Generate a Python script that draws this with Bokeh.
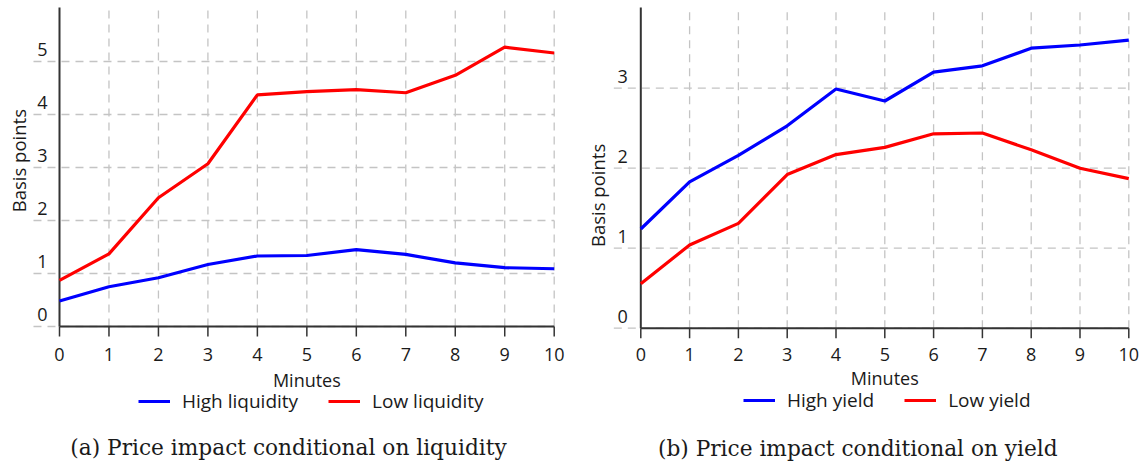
import math
from bokeh.plotting import figure
from bokeh.models import (ColumnDataSource, Range1d, LabelSet, Label, Legend, LegendItem)
from bokeh.core.properties import value
from bokeh.layouts import row
from bokeh.embed import file_html
from bokeh.resources import INLINE

# ---------------- data ----------------
minutes = [0, 1, 2, 3, 4, 5, 6, 7, 8, 9, 10]
high_liquidity = [0.48, 0.75, 0.92, 1.17, 1.33, 1.34, 1.45, 1.36, 1.20, 1.11, 1.09]
low_liquidity = [0.87, 1.37, 2.43, 3.07, 4.37, 4.43, 4.47, 4.41, 4.74, 5.27, 5.16]
high_yield = [1.24, 1.83, 2.16, 2.53, 2.99, 2.84, 3.20, 3.28, 3.50, 3.54, 3.60]
low_yield = [0.555, 1.04, 1.31, 1.92, 2.17, 2.26, 2.43, 2.44, 2.23, 2.00, 1.87]
x_ticks = [0, 1, 2, 3, 4, 5, 6, 7, 8, 9, 10]
y_ticks_a = [0, 1, 2, 3, 4, 5]
y_ticks_b = [0, 1, 2, 3]
series_labels_a = ["High liquidity", "Low liquidity"]
series_labels_b = ["High yield", "Low yield"]
captions = ["(a) Price impact conditional on liquidity", "(b) Price impact conditional on yield"]
x_label = "Minutes"
y_label = "Basis points"

SANS = "Open Sans"
SERIF = "DejaVu Serif"
TXT = "#1a1a1a"
AXIS = "#333333"
GRID = "#c4c4c4"
BLUE = "#0000ff"
RED = "#ff0000"
H = 466


def make_panel(width, ox, oy, ux, uy, y_top, grid_left, yticks, high, low, labels, caption,
               ylab_y, cfg):
    # ox, oy: pixel position of the data origin inside the figure (from top-left)
    # ux, uy: pixels per data unit
    xs = -ox / ux
    xe = xs + width / ux
    ye = oy / uy
    ys = ye - H / uy
    p = figure(width=width, height=H, x_range=Range1d(xs, xe), y_range=Range1d(ys, ye),
               output_backend="svg", toolbar_location=None,
               min_border=0, min_border_left=0, min_border_right=0, min_border_top=0,
               min_border_bottom=0, outline_line_color=None,
               background_fill_color="white", border_fill_color="white")
    p.xaxis.visible = False
    p.yaxis.visible = False
    p.grid.visible = False

    xmax = x_ticks[-1]
    # dashed grid
    vt = [t for t in x_ticks if t > 0]
    p.segment(x0=vt, y0=[0] * len(vt), x1=vt, y1=[y_top] * len(vt),
              line_color=GRID, line_dash="8 6", line_width=1.3)
    p.segment(x0=[grid_left] * len(yticks), y0=yticks, x1=[xmax] * len(yticks), y1=yticks,
              line_color=GRID, line_dash="8 6", line_width=1.3)

    # axes lines
    p.segment(x0=[0], y0=[0], x1=[0], y1=[y_top], line_color=AXIS, line_width=2)
    p.segment(x0=[0], y0=[0], x1=[xmax], y1=[0], line_color=AXIS, line_width=2)
    tick_len = 10 / uy
    p.segment(x0=x_ticks, y0=[0] * len(x_ticks), x1=x_ticks, y1=[-tick_len] * len(x_ticks),
              line_color=AXIS, line_width=1.5)

    # tick labels
    xsrc = ColumnDataSource(dict(x=x_ticks, y=[0] * len(x_ticks), t=[str(v) for v in x_ticks]))
    p.add_layout(LabelSet(x="x", y="y", text="t", source=xsrc, y_offset=cfg["xlab_off"],
                          text_align="center", text_baseline="middle",
                          text_font=value(SANS), text_font_size=value("18px"),
                          text_color=TXT))
    ysrc = ColumnDataSource(dict(x=[0] * len(yticks), y=yticks, t=[str(v) for v in yticks]))
    p.add_layout(LabelSet(x="x", y="y", text="t", source=ysrc, x_offset=cfg["ylab_xoff"],
                          y_offset=12, text_align="right", text_baseline="middle",
                          text_font=value(SANS), text_font_size=value("18px"),
                          text_color=TXT))

    # axis titles
    p.add_layout(Label(x=xmax / 2, y=0, y_offset=cfg["xtitle_off"], text=x_label,
                       text_align="center", text_baseline="middle", text_font=SANS,
                       text_font_size="18px", text_color=TXT))
    p.add_layout(Label(x=0, y=ylab_y, x_offset=cfg["ytitle_xoff"], text=y_label,
                       angle=math.pi / 2, text_align="center", text_baseline="middle",
                       text_font=SANS, text_font_size="18.5px", text_color=TXT))

    r1 = p.line(minutes, high, line_color=BLUE, line_width=3.2)
    r2 = p.line(minutes, low, line_color=RED, line_width=3.2)

    leg = Legend(items=[LegendItem(label=labels[0], renderers=[r1]),
                        LegendItem(label=labels[1], renderers=[r2])],
                 orientation="horizontal", location=cfg["legend_loc"],
                 border_line_color=None, background_fill_alpha=0,
                 label_text_font=SANS, label_text_font_size="19px", label_text_color=TXT,
                 glyph_width=32, glyph_height=20, label_height=20, spacing=30,
                 padding=0, margin=0, label_standoff=12)
    p.add_layout(leg, "center")

    p.add_layout(Label(x=0, y=0, x_offset=cfg["cap_xoff"], y_offset=cfg["cap_yoff"],
                       text=caption, text_align="center", text_baseline="middle",
                       text_font=SERIF, text_font_size="21.7px", text_color=TXT))
    return p


cfg_a = dict(xlab_off=-28, ylab_xoff=-12, xtitle_off=-53, ytitle_xoff=-41,
             legend_loc=(138, 52), cap_xoff=229, cap_yoff=-121)
cfg_b = dict(xlab_off=-26, ylab_xoff=-13, xtitle_off=-50, ytitle_xoff=-43,
             legend_loc=(172, 53), cap_xoff=217, cap_yoff=-120)

pa = make_panel(571, 59.0, 326.0, 49.47, 53.0, 6.02, -0.526, y_ticks_a,
                high_liquidity, low_liquidity, series_labels_a, captions[0], 3.13, cfg_a)
pb = make_panel(572, 69.3, 327.7, 48.8, 80.0, 4.01, -0.553, y_ticks_b,
                high_yield, low_yield, series_labels_b, captions[1], 1.66, cfg_b)

layout = row(pa, pb, spacing=0)
open("out.html", "w").write(file_html(layout, INLINE))
